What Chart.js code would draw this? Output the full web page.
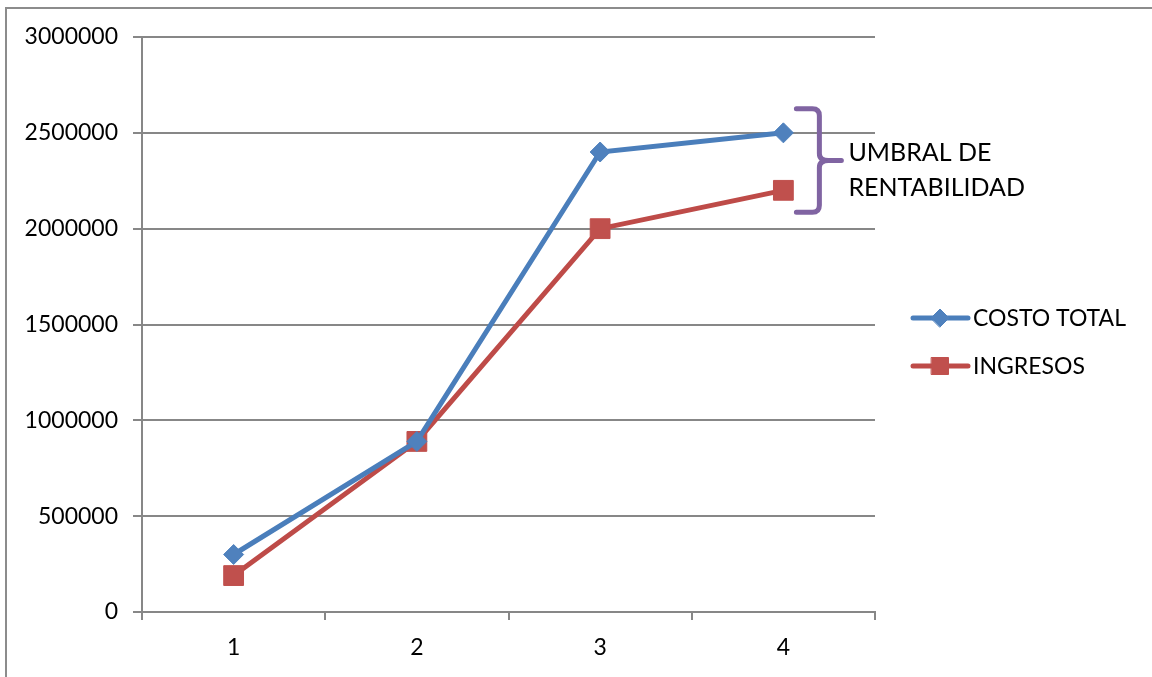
<!DOCTYPE html>
<html>
<head>
<meta charset="utf-8">
<script src="https://cdn.jsdelivr.net/npm/chart.js@4.4.1/dist/chart.umd.min.js"></script>
<style>
  html, body { margin: 0; padding: 0; background: #fff; overflow: hidden; }
  #frame {
    position: absolute; left: 5px; top: 7px; width: 1300px; height: 800px;
    border-left: 2px solid #8c8c8c; border-top: 2px solid #8c8c8c;
  }
  #wrap { position: absolute; left: 0; top: 0; width: 1152px; height: 677px; }
</style>
</head>
<body>
<div id="frame"></div>
<div id="wrap"><canvas id="chart" width="1152" height="677"></canvas></div>
<script>
// data
const categories = ['1', '2', '3', '4'];
const costoTotal = [300000, 890000, 2400000, 2500000];
const ingresos = [190000, 890000, 2000000, 2200000];
const yTicks = [0, 500000, 1000000, 1500000, 2000000, 2500000, 3000000];
const braceLines = ['UMBRAL DE', 'RENTABILIDAD'];

const BLUE_LINE = '#4A7EBB';
const BLUE = '#4F81BD';
const RED_LINE = '#BE4B48';
const RED = '#C0504D';
const PURPLE = '#8064A2';
const GRID = '#878787';
const FONT = 'Lato, "Open Sans", sans-serif';

// legend drawn as line + marker like the original
const sideLegend = {
  id: 'sideLegend',
  afterDraw(chart) {
    const ctx = chart.ctx;
    const x0 = chart.chartArea.right + 38;
    chart.data.datasets.forEach((ds, i) => {
      const y = 318 + i * 48;
      ctx.save();
      ctx.strokeStyle = ds.borderColor;
      ctx.lineWidth = 5;
      ctx.lineCap = 'round';
      ctx.beginPath();
      ctx.moveTo(x0, y);
      ctx.lineTo(x0 + 55, y);
      ctx.stroke();

      ctx.fillStyle = ds.pointBackgroundColor;
      ctx.strokeStyle = ds.pointBackgroundColor;
      ctx.lineWidth = 1;
      Chart.helpers.drawPoint(ctx, {
        pointStyle: ds.pointStyle,
        radius: ds.legendRadius,
        borderWidth: 1
      }, x0 + 27, y);

      ctx.fillStyle = '#000';
      ctx.font = '23px ' + FONT;
      ctx.textBaseline = 'middle';
      ctx.textAlign = 'left';
      ctx.fillText(ds.label, x0 + 60, y + 1);
      ctx.restore();
    });
  }
};

// curly brace between the two last points
const brace = {
  id: 'brace',
  afterDatasetsDraw(chart) {
    const { ctx, scales } = chart;
    const last = categories.length - 1;
    const xPt = scales.x.getPixelForValue(last);
    const top = scales.y.getPixelForValue(costoTotal[last]) - 24;
    const bot = scales.y.getPixelForValue(ingresos[last]) + 22;
    const mid = (top + bot) / 2;
    const tipX = xPt + 13;
    const spineX = xPt + 36;
    const noseX = xPt + 60;
    ctx.save();
    ctx.strokeStyle = PURPLE;
    ctx.lineWidth = 5;
    ctx.lineJoin = 'round';
    ctx.lineCap = 'round';
    ctx.beginPath();
    ctx.moveTo(tipX, top);
    ctx.lineTo(spineX - 7, top);
    ctx.quadraticCurveTo(spineX, top, spineX, top + 7);
    ctx.lineTo(spineX, mid - 7);
    ctx.quadraticCurveTo(spineX, mid, spineX + 9, mid);
    ctx.lineTo(noseX - 2, mid);
    ctx.moveTo(spineX + 9, mid);
    ctx.quadraticCurveTo(spineX, mid, spineX, mid + 7);
    ctx.lineTo(spineX, bot - 7);
    ctx.quadraticCurveTo(spineX, bot, spineX - 7, bot);
    ctx.lineTo(tipX, bot);
    ctx.stroke();
    ctx.fillStyle = '#000';
    ctx.font = '25px ' + FONT;
    ctx.textBaseline = 'middle';
    ctx.textAlign = 'left';
    braceLines.forEach((t, i) => ctx.fillText(t, noseX + 5, mid - 8 + i * 35));
    ctx.restore();
  }
};

new Chart(document.getElementById('chart'), {
  type: 'line',
  plugins: [brace, sideLegend],
  data: {
    labels: categories,
    datasets: [
      {
        label: 'COSTO TOTAL',
        data: costoTotal,
        borderColor: BLUE_LINE,
        borderWidth: 5,
        pointStyle: 'rectRot',
        pointRadius: 10,
        legendRadius: 9,
        pointBackgroundColor: BLUE,
        pointBorderColor: BLUE,
        pointBorderWidth: 1,
        tension: 0
      },
      {
        label: 'INGRESOS',
        data: ingresos,
        borderColor: RED_LINE,
        borderWidth: 5,
        pointStyle: 'rect',
        pointRadius: 14,
        legendRadius: 12,
        pointBackgroundColor: RED,
        pointBorderColor: RED,
        pointBorderWidth: 1,
        tension: 0
      }
    ]
  },
  options: {
    responsive: false,
    animation: false,
    devicePixelRatio: 1,
    layout: { padding: { top: 37, right: 277, bottom: 0, left: 0 } },
    plugins: { legend: { display: false }, tooltip: { enabled: false } },
    scales: {
      x: {
        type: 'category',
        offset: true,
        grid: {
          offset: true, drawOnChartArea: false, drawTicks: true,
          tickLength: 8, color: GRID, lineWidth: 2
        },
        border: { display: true, color: GRID, width: 2 },
        ticks: { color: '#000', font: { family: FONT, size: 23 }, padding: 14 },
        afterFit(s) { s.height = 65; }
      },
      y: {
        min: 0,
        max: 3000000,
        afterBuildTicks(s) { s.ticks = yTicks.map(v => ({ value: v })); },
        grid: { color: GRID, lineWidth: 2, tickLength: 9 },
        border: { display: true, color: GRID, width: 2 },
        ticks: {
          color: '#000', font: { family: FONT, size: 23 }, padding: 15,
          callback: v => String(v)
        },
        afterFit(s) { s.width = 142; }
      }
    }
  }
});
</script>
</body>
</html>
